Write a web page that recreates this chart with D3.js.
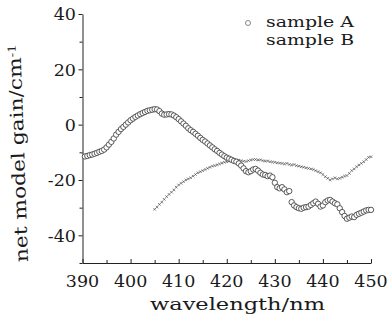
<!DOCTYPE html>
<html>
<head>
<meta charset="utf-8">
<script src="https://cdn.jsdelivr.net/npm/d3@7"></script>
<style>
  body { margin: 0; background: #fff; }
  svg text { font-family: 'DejaVu Serif', serif; fill: #1a1a1a; }
</style>
</head>
<body>
<svg id="chart" width="392" height="321"></svg>
<script>
// sample A (open circles)
const wavelengthA = [390.5,391,391.5,392,392.5,393,393.5,394,394.5,395,395.5,396,396.5,397,397.5,398,398.5,399,399.5,400,
  400.5,401,401.5,402,402.5,403,403.5,404,404.5,405,405.5,406,406.5,407,407.5,408,408.5,409,409.5,410,
  410.5,411,411.5,412,412.5,413,413.5,414,414.5,415,415.5,416,416.5,417,417.5,418,418.5,419,419.5,420,
  420.5,421,421.5,422,422.5,423,423.5,424,424.5,425,425.5,426,426.5,427,427.5,428,428.5,429,429.5,430,
  430.5,431,431.5,432,432.5,433,433.5,434,434.5,435,435.5,436,436.5,437,437.5,438,438.5,439,439.5,440,
  440.5,441,441.5,442,442.5,443,443.5,444,444.5,445,445.5,446,446.5,447,447.5,448,448.5,449,449.5,450];
const gainA = [-11.5,-11.3,-11.0,-10.8,-10.5,-10.2,-9.8,-9.5,-9.0,-8.2,-7.2,-6.2,-5.0,-3.6,-2.6,-1.6,-0.8,0.0,0.8,1.6,
  2.2,2.8,3.3,3.8,4.2,4.6,5.0,5.2,5.4,5.6,5.5,4.9,4.0,3.6,3.7,3.8,3.7,3.3,2.7,2.0,
  1.2,0.4,-0.4,-1.3,-2.0,-2.6,-3.3,-4.0,-4.8,-5.5,-6.1,-6.8,-7.5,-8.2,-8.9,-9.5,-10.2,-10.8,-11.4,-11.9,
  -12.3,-12.7,-13.1,-13.4,-14.0,-14.8,-15.8,-16.8,-17.2,-16.8,-16.2,-16.0,-16.6,-17.4,-18.0,-18.2,-18.6,-18.4,-19.0,-21.0,
  -22.6,-23.0,-22.6,-23.4,-24.4,-24.0,-28.0,-29.2,-29.8,-30.2,-30.4,-30.0,-29.8,-29.6,-29.0,-28.4,-27.8,-28.6,-29.6,-29.2,
  -28.0,-27.4,-27.2,-27.8,-28.4,-28.8,-30.2,-31.6,-33.0,-34.0,-33.6,-33.2,-33.4,-32.6,-32.2,-31.8,-31.4,-31.0,-30.8,-30.8];

// sample B (small crosses)
const wavelengthB = [405,405.5,406,406.5,407,407.5,408,408.5,409,409.5,410,410.5,411,411.5,412,412.5,413,413.5,414,414.5,
  415,415.5,416,416.5,417,417.5,418,418.5,419,419.5,420,420.5,421,421.5,422,422.5,423,423.5,424,424.5,
  425,425.5,426,426.5,427,427.5,428,428.5,429,429.5,430,430.5,431,431.5,432,432.5,433,433.5,434,434.5,
  435,435.5,436,436.5,437,437.5,438,438.5,439,439.5,440,440.5,441,441.5,442,442.5,443,443.5,444,444.5,
  445,445.5,446,446.5,447,447.5,448,448.5,449,449.5,450];
const gainB = [-30.6,-29.8,-28.8,-28.0,-27.0,-26.0,-25.2,-24.4,-23.6,-22.6,-21.8,-21.2,-20.6,-20.0,-19.6,-19.2,-18.6,-18.0,-17.4,-17.0,
  -16.6,-16.2,-15.8,-15.4,-15.0,-14.8,-14.5,-14.2,-13.9,-13.6,-13.4,-13.2,-13.0,-13.1,-13.0,-12.8,-13.0,-13.2,-13.3,-13.0,
  -12.8,-12.6,-12.6,-12.8,-12.7,-13.0,-13.2,-13.1,-13.4,-13.5,-13.6,-13.8,-13.9,-14.0,-14.2,-14.0,-14.4,-14.6,-14.4,-14.8,
  -15.0,-15.2,-15.4,-15.6,-15.8,-16.0,-16.2,-16.6,-17.0,-17.4,-18.0,-18.8,-19.4,-20.0,-19.6,-19.2,-19.6,-19.4,-19.0,-18.6,
  -18.4,-17.6,-16.6,-16.0,-15.2,-14.6,-14.0,-13.4,-12.6,-11.8,-11.6];

const xTicks = [390, 400, 410, 420, 430, 440, 450];
const yTicks = [-40, -20, 0, 20, 40];
const legendLabels = ['sample A', 'sample B'];

const svg = d3.select('#chart');

const x = d3.scaleLinear().domain([390, 450]).range([82.5, 371]);
const y = d3.scaleLinear().domain([-50, 40]).range([263, 14]);

// axes
const xAxis = svg.append('g').attr('transform', `translate(0,${y(-50)})`);
xAxis.call(d3.axisBottom(x).tickValues(d3.range(390, 451, 5)).tickSizeInner(-4).tickSizeOuter(0).tickFormat(''));
xAxis.selectAll('.tick line').attr('y2', d => d % 10 === 0 ? -4 : -3);

const yAxis = svg.append('g').attr('transform', `translate(${x(390)},0)`);
yAxis.call(d3.axisLeft(y).tickValues(d3.range(-50, 41, 10)).tickSize(4).tickSizeOuter(0).tickFormat(''));
yAxis.selectAll('.tick line').attr('x2', d => d % 20 === 0 ? -4 : -3);

svg.selectAll('.domain, .tick line').attr('stroke', '#222').attr('stroke-width', 1);

// tick labels
svg.append('g').selectAll('text').data(xTicks).join('text')
  .attr('x', d => x(d))
  .attr('y', 287)
  .attr('text-anchor', 'middle')
  .attr('font-size', 17.5)
  .text(d => d);

svg.append('g').selectAll('text').data(yTicks).join('text')
  .attr('x', 76)
  .attr('y', d => y(d) + 6.3)
  .attr('text-anchor', 'end')
  .attr('font-size', 17.5)
  .text(d => d);

// axis titles
svg.append('text')
  .attr('x', 150)
  .attr('y', 310)
  .attr('font-size', 17.5)
  .attr('textLength', 175)
  .attr('lengthAdjust', 'spacingAndGlyphs')
  .text('wavelength/nm');

const yTitle = svg.append('text')
  .attr('transform', 'translate(28,262) rotate(-92)')
  .attr('font-size', 18)
  .attr('textLength', 218)
  .attr('lengthAdjust', 'spacingAndGlyphs');
yTitle.append('tspan').text('net model gain/cm');
yTitle.append('tspan').attr('font-size', 11).attr('baseline-shift', '45%').text('-1');

// sample B
const cross = d3.symbol(d3.symbolTimes).size(5);
svg.append('g').selectAll('path').data(d3.zip(wavelengthB, gainB)).join('path')
  .attr('transform', d => `translate(${x(d[0])},${y(d[1])})`)
  .attr('d', cross)
  .attr('fill', 'none')
  .attr('stroke', '#333')
  .attr('stroke-width', 0.6);

// sample A
svg.append('g').selectAll('circle').data(d3.zip(wavelengthA, gainA)).join('circle')
  .attr('cx', d => x(d[0]))
  .attr('cy', d => y(d[1]))
  .attr('r', 2.7)
  .attr('fill', '#fff')
  .attr('stroke', '#333')
  .attr('stroke-width', 0.8);

// legend
const legend = svg.append('g');
legend.append('circle').attr('cx', 248).attr('cy', 23).attr('r', 2.5)
  .attr('fill', '#fff').attr('stroke', '#666').attr('stroke-width', 0.8);
legend.selectAll('text').data(legendLabels).join('text')
  .attr('x', 266)
  .attr('y', (d, i) => 27 + i * 17.5)
  .attr('font-size', 15.5)
  .attr('textLength', 88)
  .attr('lengthAdjust', 'spacingAndGlyphs')
  .text(d => d);
</script>
</body>
</html>
